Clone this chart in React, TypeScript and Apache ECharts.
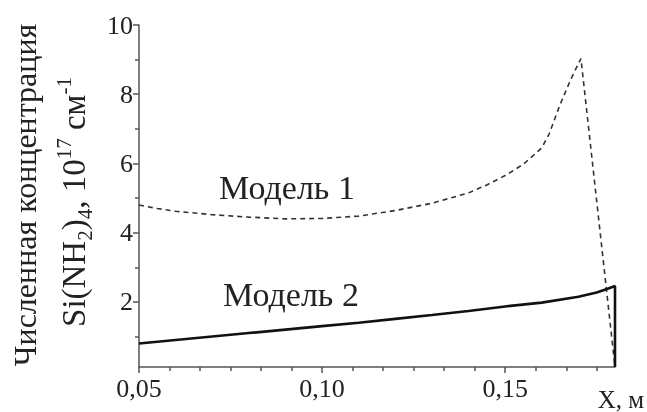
import React, { useEffect, useRef } from "react";
import * as echarts from "echarts";

// Model 1 (dashed) — [x (m), concentration (1e17 cm^-1)]
const model1X = [0.05, 0.055, 0.06, 0.07, 0.08, 0.09, 0.10, 0.11, 0.12, 0.13, 0.14, 0.145, 0.15, 0.155, 0.16, 0.162, 0.165, 0.168, 0.1707, 0.18];
const model1Y = [4.80, 4.70, 4.62, 4.52, 4.45, 4.40, 4.41, 4.48, 4.64, 4.85, 5.15, 5.38, 5.65, 5.98, 6.45, 6.85, 7.70, 8.45, 9.03, 0.12];

// Model 2 (solid)
const model2X = [0.05, 0.06, 0.07, 0.08, 0.09, 0.10, 0.11, 0.12, 0.13, 0.14, 0.15, 0.16, 0.17, 0.175, 0.178, 0.18, 0.18];
const model2Y = [0.80, 0.90, 1.00, 1.10, 1.20, 1.30, 1.40, 1.51, 1.62, 1.74, 1.87, 1.98, 2.15, 2.27, 2.38, 2.46, 0.12];

const xMajorTicks = [0.05, 0.10, 0.15];
const xMinorTicks = [0.0583, 0.0667, 0.075, 0.0833, 0.0917, 0.1083, 0.1167, 0.125, 0.1333, 0.1417, 0.1583, 0.1667, 0.175];
const yMajorTicks = [2, 4, 6, 8, 10];
const yMinorTicks = [1, 3, 5, 7, 9];

const xMin = 0.05;
const xMax = 0.18;
const yMin = 0.12;
const yMax = 10;

const FONT = "Liberation Serif, Tinos, Times New Roman, serif";
const AXIS_COLOR = "#555";
const TEXT_COLOR = "#222";

function buildOption() {
  const zip = (xs: number[], ys: number[]) => xs.map((x, i) => [x, ys[i]]);

  const baseX = {
    type: "value" as const,
    min: xMin,
    max: xMax,
    position: "bottom" as const,
    splitLine: { show: false },
  };
  const baseY = {
    type: "value" as const,
    min: yMin,
    max: yMax,
    position: "left" as const,
    splitLine: { show: false },
  };

  return {
    animation: false,
    textStyle: { fontFamily: FONT },
    grid: { left: 139, right: 32, top: 25, bottom: 45, containLabel: false },
    xAxis: [
      {
        ...baseX,
        axisLine: { show: true, onZero: false, lineStyle: { color: AXIS_COLOR, width: 1.5 } },
        axisTick: { show: true, customValues: xMajorTicks, length: 6, lineStyle: { color: AXIS_COLOR, width: 1.5 } },
        axisLabel: {
          customValues: xMajorTicks,
          formatter: (v: number) => v.toFixed(2).replace(".", ","),
          fontFamily: FONT,
          fontSize: 26,
          color: TEXT_COLOR,
          margin: 8,
        },
      },
      {
        ...baseX,
        axisLine: { show: false, onZero: false },
        axisTick: { show: true, customValues: xMinorTicks, length: 4, lineStyle: { color: AXIS_COLOR, width: 1.5 } },
        axisLabel: { show: false },
      },
    ],
    yAxis: [
      {
        ...baseY,
        axisLine: { show: true, onZero: false, lineStyle: { color: AXIS_COLOR, width: 1.5 } },
        axisTick: { show: true, customValues: yMajorTicks, length: 6, lineStyle: { color: AXIS_COLOR, width: 1.5 } },
        axisLabel: {
          customValues: yMajorTicks,
          fontFamily: FONT,
          fontSize: 26,
          color: TEXT_COLOR,
          margin: 6,
        },
      },
      {
        ...baseY,
        axisLine: { show: false, onZero: false },
        axisTick: { show: true, customValues: yMinorTicks, length: 4, lineStyle: { color: AXIS_COLOR, width: 1.5 } },
        axisLabel: { show: false },
      },
    ],
    series: [
      {
        name: "Модель 1",
        type: "line",
        xAxisIndex: 0,
        yAxisIndex: 0,
        data: zip(model1X, model1Y),
        symbol: "none",
        smooth: false,
        lineStyle: { color: "#333", width: 1.6, type: [5, 4] },
      },
      {
        name: "Модель 2",
        type: "line",
        xAxisIndex: 0,
        yAxisIndex: 0,
        data: zip(model2X, model2Y),
        symbol: "none",
        smooth: false,
        lineStyle: { color: "#111", width: 2.6 },
      },
    ],
    graphic: [
      {
        type: "text",
        x: 287,
        y: 187,
        style: { text: "Модель 1", fontFamily: FONT, fontSize: 34, fill: TEXT_COLOR, textAlign: "center", textVerticalAlign: "middle" },
      },
      {
        type: "text",
        x: 291,
        y: 294,
        style: { text: "Модель 2", fontFamily: FONT, fontSize: 34, fill: TEXT_COLOR, textAlign: "center", textVerticalAlign: "middle" },
      },
      {
        type: "text",
        x: 621,
        y: 399,
        style: { text: "X, м", fontFamily: FONT, fontSize: 25, fill: TEXT_COLOR, textAlign: "center", textVerticalAlign: "middle" },
      },
      {
        type: "text",
        x: 25,
        y: 195,
        rotation: Math.PI / 2,
        style: { text: "Численная концентрация", fontFamily: FONT, fontSize: 32, fill: TEXT_COLOR, textAlign: "center", textVerticalAlign: "middle" },
      },
      {
        type: "text",
        x: 74,
        y: 202,
        rotation: Math.PI / 2,
        style: {
          text: "{n|Si(NH}{sub|2}{n|)}{sub|4}{n|, 10}{sup|17}{n| см}{sup|-1}",
          fill: TEXT_COLOR,
          fontFamily: FONT,
          textAlign: "center",
          textVerticalAlign: "middle",
          rich: {
            n: { fontFamily: FONT, fontSize: 33, lineHeight: 42, fill: TEXT_COLOR },
            sub: { fontFamily: FONT, fontSize: 21, lineHeight: 21, verticalAlign: "bottom", fill: TEXT_COLOR },
            sup: { fontFamily: FONT, fontSize: 21, lineHeight: 21, verticalAlign: "top", fill: TEXT_COLOR },
          },
        },
      },
    ],
  };
}

export default function App() {
  const ref = useRef<HTMLDivElement>(null);

  useEffect(() => {
    if (!ref.current) return;
    const chart = echarts.init(ref.current, undefined, { renderer: "svg" });
    chart.setOption(buildOption());
    let alive = true;
    const fonts = (document as any).fonts;
    if (fonts && fonts.load) {
      fonts
        .load("26px 'Liberation Serif'")
        .then(() => {
          if (alive) chart.setOption(buildOption(), true);
        })
        .catch(() => {});
    }
    return () => {
      alive = false;
      chart.dispose();
    };
  }, []);

  return <div ref={ref} style={{ position: "fixed", left: 0, top: 0, width: 647, height: 412 }} />;
}
